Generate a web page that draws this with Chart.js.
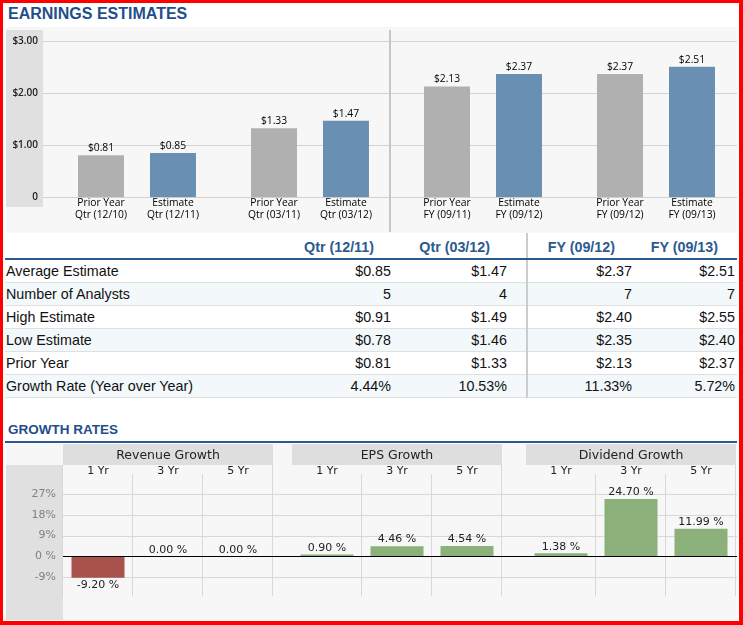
<!DOCTYPE html>
<html><head><meta charset="utf-8">
<script src="https://cdn.jsdelivr.net/npm/chart.js@4.4.0/dist/chart.umd.min.js"></script>
<style>
html,body{margin:0;padding:0;background:#fff;}
body{width:743px;height:625px;overflow:hidden;position:relative;font-family:"Liberation Sans",Arial,sans-serif;}
.abs{position:absolute;}
#frame{left:0;top:0;width:736px;height:618px;border:3px solid #ff0000;border-right-width:4px;border-bottom-width:4px;z-index:10;pointer-events:none;}
#t1{left:8px;top:5px;font:bold 16px/18px "Liberation Sans",Arial,sans-serif;color:#1f4e8c;}
#t2{left:8px;top:422px;font:bold 13.5px/16px "Liberation Sans",Arial,sans-serif;color:#1f4e8c;}
#epsBg{left:6px;top:27px;width:731px;height:206px;background:#f7f7f7;}
#epsAxis{left:6px;top:30px;width:37px;height:177px;background:#e0e0e0;}
#gLine{left:5px;top:441px;width:732px;height:2px;background:#2b5a90;}
#gBg{left:6px;top:444px;width:731px;height:176px;background:#f7f7f7;}
canvas{position:absolute;}
#tbl{position:absolute;left:5px;top:233px;width:732px;border-collapse:collapse;table-layout:fixed;font-size:14.3px;color:#111;}
#tbl td,#tbl th{padding:0;white-space:nowrap;overflow:hidden;}
#tbl th{height:26px;font:bold 14.3px "Liberation Sans",Arial,sans-serif;color:#2b5a90;text-align:right;border-bottom:2px solid #2b5a90;vertical-align:middle;padding-top:3px;box-sizing:border-box;}
#tbl td{height:23px;border-bottom:1px solid #e0e0e0;text-align:right;vertical-align:middle;box-sizing:border-box;}
#tbl td.lbl{text-align:left;padding-left:1px;}
#tbl tr.alt td{background:#f3f8fb;}
#tbl .sep{border-left:2px solid #cccccc;}
</style></head><body>
<div id="frame" class="abs"></div>
<div id="t1" class="abs">EARNINGS ESTIMATES</div>
<div id="epsBg" class="abs"></div>
<div id="epsAxis" class="abs"></div>
<canvas id="eps" width="743" height="232" style="left:0;top:0;width:743px;height:232px"></canvas>
<table id="tbl"></table>
<div id="t2" class="abs">GROWTH RATES</div>
<div id="gLine" class="abs"></div>
<div id="gBg" class="abs"></div>
<canvas id="g1" width="292" height="176" style="left:0;top:444px;width:292px;height:176px"></canvas>
<canvas id="g2" width="234" height="176" style="left:292px;top:444px;width:234px;height:176px"></canvas>
<canvas id="g3" width="211" height="176" style="left:526px;top:444px;width:211px;height:176px"></canvas>
<script>
// ---------- DATA ----------
const periods = ["Qtr (12/11)", "Qtr (03/12)", "FY (09/12)", "FY (09/13)"];
const priorPeriods = ["Qtr (12/10)", "Qtr (03/11)", "FY (09/11)", "FY (09/12)"];
const seriesNames = ["Prior Year", "Estimate"];
const priorYearEPS = [0.81, 1.33, 2.13, 2.37];
const estimateEPS = [0.85, 1.47, 2.37, 2.51];
const epsTickValues = [0, 1, 2, 3];
const epsTickLabels = ["0", "$1.00", "$2.00", "$3.00"];

const rowLabels = ["Average Estimate", "Number of Analysts", "High Estimate", "Low Estimate", "Prior Year", "Growth Rate (Year over Year)"];
const numAnalysts = [5, 4, 7, 7];
const highEstimate = [0.91, 1.49, 2.40, 2.55];
const lowEstimate = [0.78, 1.46, 2.35, 2.40];
const growthYoY = [4.44, 10.53, 11.33, 5.72];

const growthGroups = ["Revenue Growth", "EPS Growth", "Dividend Growth"];
const growthPeriods = ["1 Yr", "3 Yr", "5 Yr"];
const revenueGrowth = [-9.20, 0.00, 0.00];
const epsGrowth = [0.90, 4.46, 4.54];
const dividendGrowth = [1.38, 24.70, 11.99];
const growthTickValues = [27, 18, 9, 0, -9];
const growthTickLabels = ["27%", "18%", "9%", "0 %", "-9%"];

// ---------- TABLE ----------
const money = v => "$" + v.toFixed(2);
(function buildTable(){
  const t = document.getElementById("tbl");
  const widths = [270, 118, 134, 107, 103];
  let h = "<colgroup>" + widths.map(w => `<col style="width:${w}px">`).join("") + "</colgroup>";
  const pads = [2, 19, 2, 2];
  h += "<tr><th></th>" + periods.map((p, i) => `<th class="${i === 2 ? 'sep' : ''}" style="padding-right:${pads[i] + 17}px">${p}</th>`).join("") + "</tr>";
  const rows = [
    estimateEPS.map(money),
    numAnalysts.map(String),
    highEstimate.map(money),
    lowEstimate.map(money),
    priorYearEPS.map(money),
    growthYoY.map(v => v.toFixed(2) + "%")
  ];
  rows.forEach((r, ri) => {
    h += `<tr class="${ri % 2 ? 'alt' : ''}"><td class="lbl">${rowLabels[ri]}</td>` +
      r.map((v, i) => `<td class="${i === 2 ? 'sep' : ''}" style="padding-right:${pads[i]}px">${v}</td>`).join("") + "</tr>";
  });
  t.innerHTML = h;
})();

// ---------- EPS CHART ----------
const epsDeco = {
  id: "epsDeco",
  beforeDatasetsDraw(chart) {
    const { ctx, scales: { y } } = chart;
    ctx.save();
    ctx.strokeStyle = "#d2d2d2"; ctx.lineWidth = 1;
    epsTickValues.forEach(v => {
      const py = Math.round(y.getPixelForValue(v)) + 0.5;
      ctx.beginPath(); ctx.moveTo(43, py); ctx.lineTo(737, py); ctx.stroke();
    });
    ctx.fillStyle = "#c6c6c6"; ctx.fillRect(389, 30, 2, 203);
    ctx.fillStyle = "#222"; ctx.font = '600 10px "Open Sans"';
    ctx.textAlign = "right"; ctx.textBaseline = "middle";
    epsTickValues.forEach((v, i) => ctx.fillText(epsTickLabels[i], 38, y.getPixelForValue(v)));
    ctx.restore();
  },
  afterDatasetsDraw(chart) {
    const { ctx, scales: { y } } = chart;
    const base = y.getPixelForValue(0);
    ctx.save();
    ctx.textAlign = "center"; ctx.textBaseline = "middle"; ctx.fillStyle = "#000";
    chart.data.datasets.forEach((ds, di) => {
      const meta = chart.getDatasetMeta(di);
      const subs = di === 0 ? priorPeriods : periods;
      meta.data.forEach((bar, i) => {
        ctx.font = '10.3px "Open Sans"';
        ctx.fillText(money(ds.data[i]), bar.x, bar.y - 7);
        ctx.fillText(seriesNames[di], bar.x, base + 6);
        ctx.fillText(subs[i], bar.x, base + 18);
      });
    });
    ctx.restore();
  }
};
new Chart(document.getElementById("eps"), {
  type: "bar",
  data: {
    labels: periods,
    datasets: [
      { label: seriesNames[0], data: priorYearEPS, backgroundColor: "#b0b0b0" },
      { label: seriesNames[1], data: estimateEPS, backgroundColor: "#6990b3" }
    ]
  },
  options: {
    responsive: false, animation: false, devicePixelRatio: 1,
    layout: { padding: { left: 50.5, right: 0.5, top: 41.3, bottom: 34.7 } },
    datasets: { bar: { categoryPercentage: 0.832, barPercentage: 0.639, borderWidth: 0 } },
    plugins: { legend: { display: false }, tooltip: { enabled: false } },
    scales: {
      x: { display: false },
      y: { display: false, min: 0, max: 3 }
    }
  },
  plugins: [epsDeco]
});

// ---------- GROWTH CHARTS ----------
function growthDeco(title, showAxis) {
  return {
    id: "growthDeco",
    beforeDatasetsDraw(chart) {
      const { ctx, chartArea: a, scales: { x, y } } = chart;
      const W = chart.width, H = chart.height;
      ctx.save();
      ctx.fillStyle = "#dedede"; ctx.fillRect(a.left, 0, a.right - a.left, 21);
      ctx.fillStyle = "#222"; ctx.font = '12.5px "DejaVu Sans"';
      ctx.textAlign = "center"; ctx.textBaseline = "middle";
      ctx.fillText(title, (a.left + a.right) / 2, 11.5);
      if (showAxis) {
        ctx.fillStyle = "#e0e0e0"; ctx.fillRect(6, 21, a.left - 6, H - 21);
        ctx.fillStyle = "#808080"; ctx.font = '11px "DejaVu Sans"'; ctx.textAlign = "right";
        growthTickValues.forEach((v, i) => ctx.fillText(growthTickLabels[i], 56, y.getPixelForValue(v)));
      }
      ctx.strokeStyle = "#d8d8d8"; ctx.lineWidth = 1;
      growthTickValues.forEach(v => {
        if (v === 0) return;
        const py = Math.round(y.getPixelForValue(v)) + 0.5;
        ctx.beginPath(); ctx.moveTo(a.left, py); ctx.lineTo(W, py); ctx.stroke();
      });
      const n = chart.data.labels.length;
      const bounds = [a.left];
      for (let i = 1; i < n; i++) bounds.push((x.getPixelForValue(i - 1) + x.getPixelForValue(i)) / 2);
      bounds.push(a.right);
      bounds.forEach((bx, i) => {
        const px = Math.round(bx) - 0.5;
        ctx.beginPath(); ctx.moveTo(px, (i === 0 || i === n) ? 21 : a.top); ctx.lineTo(px, a.bottom); ctx.stroke();
      });
      ctx.fillStyle = "#222"; ctx.font = '11px "DejaVu Sans"'; ctx.textAlign = "center";
      chart.data.labels.forEach((l, i) => ctx.fillText(l, x.getPixelForValue(i), 27));
      ctx.restore();
    },
    afterDatasetsDraw(chart) {
      const { ctx, chartArea: a, scales: { y } } = chart;
      ctx.save();
      const zy = Math.round(y.getPixelForValue(0)) + 0.5;
      ctx.strokeStyle = "#000"; ctx.lineWidth = 1;
      ctx.beginPath(); ctx.moveTo(a.left, zy); ctx.lineTo(chart.width, zy); ctx.stroke();
      ctx.fillStyle = "#222"; ctx.font = '11px "DejaVu Sans"';
      ctx.textAlign = "center"; ctx.textBaseline = "middle";
      const ds = chart.data.datasets[0];
      chart.getDatasetMeta(0).data.forEach((bar, i) => {
        const v = ds.data[i];
        const txt = v.toFixed(2) + " %";
        ctx.fillText(txt, bar.x, v < 0 ? bar.y + 7.5 : bar.y - 6.5);
      });
      ctx.restore();
    }
  };
}
function growthChart(id, title, values, showAxis, padL, padR) {
  new Chart(document.getElementById(id), {
    type: "bar",
    data: {
      labels: growthPeriods,
      datasets: [{
        label: title, data: values,
        backgroundColor: c => (c.raw < 0 ? "#a8524b" : "#8bb07a")
      }]
    },
    options: {
      responsive: false, animation: false, devicePixelRatio: 1,
      layout: { padding: { left: padL, right: padR, top: 30, bottom: 24 } },
      datasets: { bar: { categoryPercentage: 1, barPercentage: 0.757, borderWidth: 0 } },
      plugins: { legend: { display: false }, tooltip: { enabled: false } },
      scales: {
        x: { display: false },
        y: { display: false, min: -17, max: 35.5 }
      }
    },
    plugins: [growthDeco(title, showAxis)]
  });
}
growthChart("g1", growthGroups[0], revenueGrowth, true, 63, 19);
growthChart("g2", growthGroups[1], epsGrowth, false, 0, 24);
growthChart("g3", growthGroups[2], dividendGrowth, false, 0, 1);
</script>
</body></html>
